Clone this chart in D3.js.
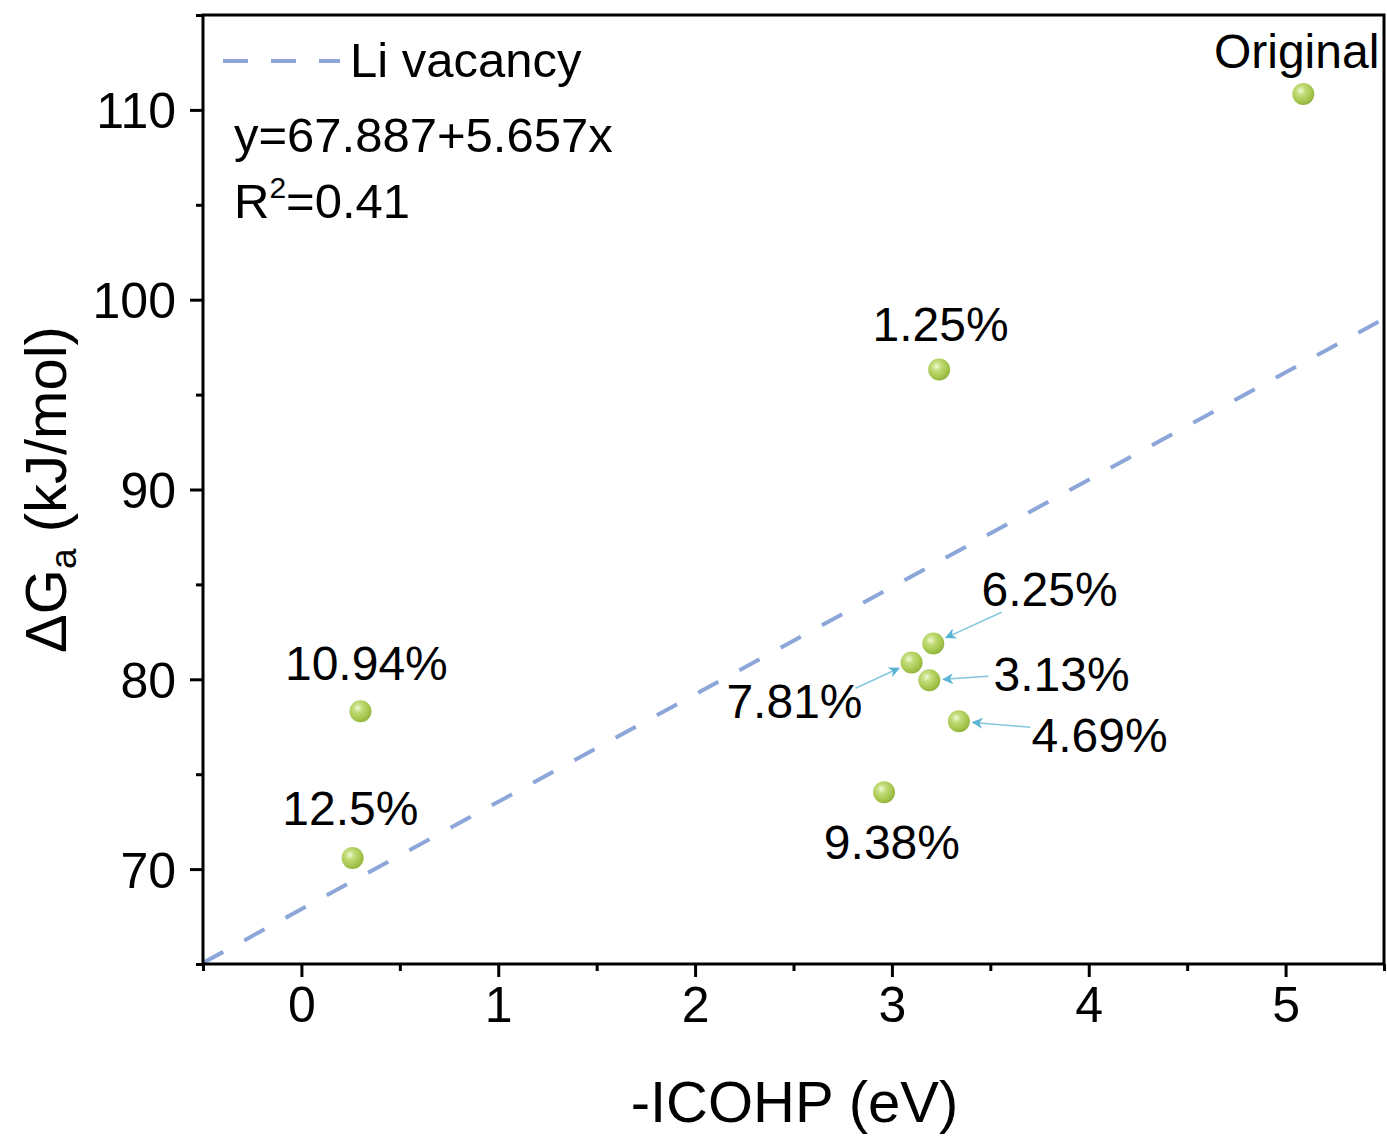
<!DOCTYPE html>
<html>
<head>
<meta charset="utf-8">
<script src="https://cdn.jsdelivr.net/npm/d3@7"></script>
<style>
  html, body { margin: 0; padding: 0; background: #fff; }
  svg { display: block; font-family: "Liberation Sans", Arial, sans-serif; }
</style>
</head>
<body>
<svg id="chart" width="1387" height="1137"></svg>
<script>
// Li-vacancy concentration samples: -ICOHP (eV) vs activation free energy (kJ/mol)
const labels   = ["Original", "1.25%", "3.13%", "4.69%", "6.25%", "7.81%", "9.38%", "10.94%", "12.5%"];
const icohp    = [5.09, 3.24, 3.19, 3.34, 3.21, 3.10, 2.96, 0.30, 0.26];
const deltaG   = [110.84, 96.32, 79.95, 77.79, 81.89, 80.89, 74.05, 78.32, 70.58];

// label placement (data units, text anchor point / baseline)
const labelX   = [5.056, 3.247, 3.516, 3.709, 3.801, 2.505, 3.0, 0.330, 0.249];
const labelY   = [112.21, 97.84, 79.37, 76.16, 83.84, 77.95, 70.55, 79.95, 72.32];
const labelAnchor = ["middle", "middle", "start", "start", "middle", "middle", "middle", "middle", "middle"];

// leader arrows for the crowded cluster (start point in data units, null = none)
const arrowFromX = [null, null, 3.491, 3.704, 3.557, 2.815, null, null, null];
const arrowFromY = [null, null, 80.16, 77.47, 83.53, 79.53, null, null, null];

// linear fit
const fitIntercept = 67.887;
const fitSlope = 5.657;
const fitText = "y=67.887+5.657x";
const r2Value = "0.41";

const xTicks = [0, 1, 2, 3, 4, 5];
const xMinor = [-0.5, 0.5, 1.5, 2.5, 3.5, 4.5, 5.5];
const yTicks = [70, 80, 90, 100, 110];
const yMinor = [65, 75, 85, 95, 105, 115];

const svg = d3.select("#chart");
const L = 203, R = 1384, T = 15, B = 964;

const x = d3.scaleLinear().domain([-0.5, 5.5]).range([L, R]);
const y = d3.scaleLinear().domain([65, 115]).range([B, T]);

const defs = svg.append("defs");
const grad = defs.append("radialGradient").attr("id", "ball")
  .attr("cx", "0.38").attr("cy", "0.35").attr("r", "0.7");
grad.append("stop").attr("offset", "0").attr("stop-color", "#f2f8d8");
grad.append("stop").attr("offset", "0.3").attr("stop-color", "#c2dc78");
grad.append("stop").attr("offset", "0.75").attr("stop-color", "#a3c44a");
grad.append("stop").attr("offset", "1").attr("stop-color", "#8cb03a");

const arrowColor = "#5ab4d6";
defs.append("marker").attr("id", "head")
  .attr("viewBox", "0 0 10 10").attr("refX", 9).attr("refY", 5)
  .attr("markerWidth", 16).attr("markerHeight", 11)
  .attr("markerUnits", "userSpaceOnUse").attr("orient", "auto")
  .append("path").attr("d", "M0,0 L10,5 L0,10 L3,5 Z").attr("fill", arrowColor);

// fit line (clipped to plot)
defs.append("clipPath").attr("id", "plotclip")
  .append("rect").attr("x", L).attr("y", T).attr("width", R - L).attr("height", B - T);
const fitX = x.domain();
svg.append("line")
  .attr("clip-path", "url(#plotclip)")
  .attr("x1", x(fitX[0])).attr("y1", y(fitIntercept + fitSlope * fitX[0]))
  .attr("x2", x(fitX[1])).attr("y2", y(fitIntercept + fitSlope * fitX[1]))
  .attr("stroke", "#8ca6da").attr("stroke-width", 4)
  .attr("stroke-dasharray", "23,24");

// axes
const fontTick = 50;
const xAxis = svg.append("g").attr("transform", `translate(0,${B})`)
  .call(d3.axisBottom(x).tickValues(xTicks).tickFormat(d3.format("d")).tickSize(13).tickPadding(9));
const xAxisMinor = svg.append("g").attr("transform", `translate(0,${B})`)
  .call(d3.axisBottom(x).tickValues(xMinor).tickFormat("").tickSize(7));
const yAxis = svg.append("g").attr("transform", `translate(${L},0)`)
  .call(d3.axisLeft(y).tickValues(yTicks).tickFormat(d3.format("d")).tickSize(13).tickPadding(14));
const yAxisMinor = svg.append("g").attr("transform", `translate(${L},0)`)
  .call(d3.axisLeft(y).tickValues(yMinor).tickFormat("").tickSize(7));

[xAxis, xAxisMinor, yAxis, yAxisMinor].forEach(g => {
  g.select(".domain").remove();
  g.selectAll(".tick line").attr("stroke", "#000").attr("stroke-width", 3);
  g.selectAll("text").attr("fill", "#000").attr("font-size", fontTick)
    .attr("font-family", "Liberation Sans, Arial, sans-serif");
});
yAxis.selectAll("text").attr("dy", "0.36em");

// frame
svg.append("rect").attr("x", L).attr("y", T).attr("width", R - L).attr("height", B - T)
  .attr("fill", "none").attr("stroke", "#000").attr("stroke-width", 3);

// axis titles
svg.append("text").attr("x", (L + R) / 2 + 1).attr("y", 1122)
  .attr("text-anchor", "middle").attr("font-size", 58).text("-ICOHP (eV)");

const yt = svg.append("text")
  .attr("transform", `translate(66,${(T + B) / 2}) rotate(-90)`)
  .attr("text-anchor", "middle").attr("font-size", 58);
yt.append("tspan").text("ΔG");
yt.append("tspan").attr("font-size", 37).attr("dy", 10).text("a");
yt.append("tspan").attr("dy", -10).text(" (kJ/mol)");

// legend and fit statistics
svg.append("line").attr("x1", 223).attr("x2", 340).attr("y1", 61).attr("y2", 61)
  .attr("stroke", "#8ca6da").attr("stroke-width", 4).attr("stroke-dasharray", "25,23");
svg.append("text").attr("x", 350).attr("y", 77).attr("font-size", 49).text("Li vacancy");
svg.append("text").attr("x", 234).attr("y", 152).attr("font-size", 49).text(fitText);
const r2 = svg.append("text").attr("x", 234).attr("y", 218).attr("font-size", 49);
r2.append("tspan").text("R");
r2.append("tspan").attr("font-size", 30).attr("dy", -20).text("2");
r2.append("tspan").attr("dy", 20).text("=" + r2Value);

// data table
const pts = labels.map((lab, i) => ({
  lab, x: icohp[i], y: deltaG[i], lx: labelX[i], ly: labelY[i], anchor: labelAnchor[i],
  ax: arrowFromX[i], ay: arrowFromY[i]
}));

// leader arrows
const rBall = 11;
svg.append("g").selectAll("line").data(pts.filter(d => d.ax !== null)).join("line")
  .each(function (d) {
    const x0 = x(d.ax), y0 = y(d.ay), x1 = x(d.x), y1 = y(d.y);
    const len = Math.hypot(x1 - x0, y1 - y0);
    const k = (len - rBall - 3) / len;
    d3.select(this)
      .attr("x1", x0).attr("y1", y0)
      .attr("x2", x0 + (x1 - x0) * k).attr("y2", y0 + (y1 - y0) * k);
  })
  .attr("stroke", arrowColor).attr("stroke-opacity", 0.75).attr("stroke-width", 1.5)
  .attr("marker-end", "url(#head)");

// points
svg.append("g").selectAll("circle").data(pts).join("circle")
  .attr("cx", d => x(d.x)).attr("cy", d => y(d.y)).attr("r", rBall)
  .attr("fill", "url(#ball)");

// point labels
svg.append("g").selectAll("text").data(pts).join("text")
  .attr("x", d => x(d.lx)).attr("y", d => y(d.ly))
  .attr("text-anchor", d => d.anchor)
  .attr("font-size", 48).text(d => d.lab);
</script>
</body>
</html>
